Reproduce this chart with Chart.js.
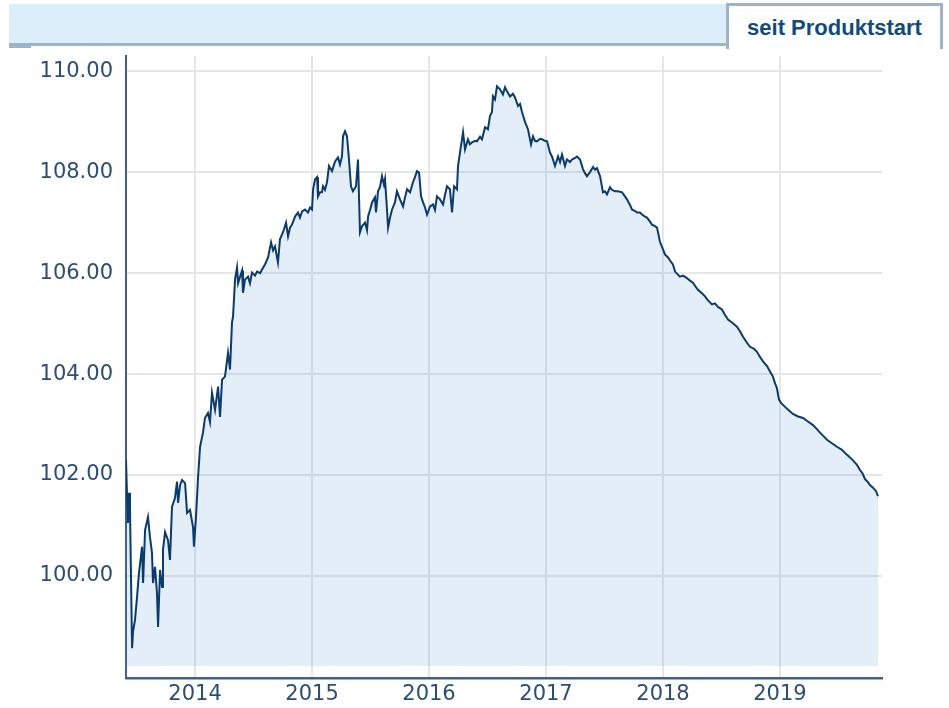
<!DOCTYPE html>
<html>
<head>
<meta charset="utf-8">
<script src="https://cdn.jsdelivr.net/npm/chart.js@4/dist/chart.umd.min.js"></script>
<style>
    html, body { margin: 0; padding: 0; background: #fff; }
    #page { position: relative; width: 949px; height: 708px; overflow: hidden; }
    #band { position: absolute; left: 9px; top: 4px; width: 717px; height: 39px; background: #ddeefb; border-bottom: 3px solid #9db3c8; }
    #bandEdge { position: absolute; left: 9px; top: 44px; width: 22px; height: 4px; background: #9db3c8; }
    #tab { position: absolute; left: 726px; top: 3px; width: 211px; height: 43px; background: #fff;
           border: 3px solid #9db3c8; border-bottom: none; text-align: center;
           font: bold 22px "Liberation Sans", Arial, sans-serif; color: #0f4b7c; line-height: 44px; }
    #box { position: absolute; left: 0; top: 0; width: 949px; height: 708px; }
</style>
</head>
<body>
<div id="page">
    <div id="box"><canvas id="chart"></canvas></div>
    <div id="band"></div>
    <div id="bandEdge"></div>
    <div id="tab">seit Produktstart</div>
</div>
<script>
// decimal years
const dates = [
    2013.410, 2013.419, 2013.427, 2013.436, 2013.444, 2013.462, 2013.470, 2013.487, 2013.504, 2013.521,
    2013.547, 2013.556, 2013.573, 2013.598, 2013.615, 2013.632, 2013.641, 2013.658, 2013.675, 2013.684,
    2013.701, 2013.718, 2013.726, 2013.744, 2013.769, 2013.786, 2013.803, 2013.829, 2013.846, 2013.855,
    2013.872, 2013.889, 2013.915, 2013.932, 2013.957, 2013.983, 2013.991, 2014.009, 2014.026, 2014.043,
    2014.068, 2014.085, 2014.111, 2014.128, 2014.145, 2014.171, 2014.197, 2014.214, 2014.231, 2014.256,
    2014.282, 2014.299, 2014.316, 2014.325, 2014.342, 2014.359, 2014.368, 2014.385, 2014.402, 2014.410,
    2014.427, 2014.453, 2014.470, 2014.487, 2014.513, 2014.530, 2014.556, 2014.573, 2014.598, 2014.624,
    2014.650, 2014.667, 2014.684, 2014.709, 2014.726, 2014.752, 2014.778, 2014.795, 2014.812, 2014.829,
    2014.855, 2014.880, 2014.897, 2014.915, 2014.940, 2014.966, 2014.983, 2015.000, 2015.009, 2015.026,
    2015.043, 2015.051, 2015.068, 2015.085, 2015.094, 2015.111, 2015.128, 2015.145, 2015.171, 2015.197,
    2015.222, 2015.239, 2015.256, 2015.265, 2015.282, 2015.299, 2015.316, 2015.333, 2015.350, 2015.376,
    2015.393, 2015.410, 2015.427, 2015.453, 2015.470, 2015.479, 2015.496, 2015.513, 2015.538, 2015.547,
    2015.564, 2015.581, 2015.598, 2015.615, 2015.624, 2015.641, 2015.650, 2015.667, 2015.684, 2015.709,
    2015.726, 2015.752, 2015.778, 2015.795, 2015.812, 2015.838, 2015.863, 2015.880, 2015.897, 2015.915,
    2015.932, 2015.949, 2015.966, 2015.983, 2016.009, 2016.034, 2016.051, 2016.068, 2016.094, 2016.120,
    2016.137, 2016.154, 2016.179, 2016.197, 2016.214, 2016.239, 2016.248, 2016.265, 2016.291, 2016.308,
    2016.333, 2016.350, 2016.368, 2016.393, 2016.410, 2016.436, 2016.453, 2016.479, 2016.504, 2016.521,
    2016.538, 2016.547, 2016.564, 2016.581, 2016.607, 2016.632, 2016.650, 2016.667, 2016.692, 2016.718,
    2016.735, 2016.761, 2016.778, 2016.795, 2016.821, 2016.846, 2016.872, 2016.889, 2016.906, 2016.923,
    2016.949, 2016.966, 2016.991, 2017.009, 2017.034, 2017.051, 2017.077, 2017.103, 2017.120, 2017.137,
    2017.162, 2017.179, 2017.205, 2017.222, 2017.248, 2017.265, 2017.291, 2017.316, 2017.333, 2017.350,
    2017.376, 2017.402, 2017.419, 2017.436, 2017.462, 2017.487, 2017.504, 2017.521, 2017.547, 2017.564,
    2017.590, 2017.615, 2017.650, 2017.675, 2017.692, 2017.718, 2017.735, 2017.761, 2017.778, 2017.803,
    2017.821, 2017.846, 2017.863, 2017.889, 2017.906, 2017.932, 2017.949, 2017.974, 2018.000, 2018.017,
    2018.043, 2018.060, 2018.085, 2018.103, 2018.128, 2018.145, 2018.171, 2018.205, 2018.231, 2018.256,
    2018.282, 2018.299, 2018.333, 2018.359, 2018.385, 2018.402, 2018.419, 2018.444, 2018.470, 2018.504,
    2018.530, 2018.556, 2018.590, 2018.632, 2018.658, 2018.684, 2018.718, 2018.744, 2018.778, 2018.803,
    2018.829, 2018.855, 2018.889, 2018.915, 2018.940, 2018.957, 2018.974, 2018.991, 2019.009, 2019.043,
    2019.077, 2019.111, 2019.154, 2019.197, 2019.239, 2019.282, 2019.316, 2019.342, 2019.376, 2019.402,
    2019.444, 2019.487, 2019.530, 2019.573, 2019.598, 2019.624, 2019.658, 2019.684, 2019.709, 2019.726,
    2019.752, 2019.769, 2019.795, 2019.821, 2019.838
];

const prices = [
    102.30, 101.60, 101.05, 101.65, 101.35, 98.57, 98.90, 99.13, 99.58, 100.06,
    100.58, 99.86, 100.91, 101.17, 100.77, 100.46, 99.86, 100.18, 99.66, 98.99,
    100.12, 99.78, 100.52, 100.87, 100.71, 100.32, 101.37, 101.55, 101.87, 101.45,
    101.80, 101.90, 101.84, 101.25, 101.31, 100.97, 100.58, 101.20, 101.96, 102.56,
    102.84, 103.13, 103.23, 103.05, 103.63, 103.29, 103.75, 103.15, 103.89, 103.95,
    104.42, 104.09, 105.02, 105.14, 105.87, 106.11, 105.80, 105.93, 106.05, 105.61,
    105.87, 105.93, 105.80, 106.01, 105.95, 106.03, 106.00, 106.07, 106.17, 106.31,
    106.61, 106.45, 106.53, 106.21, 106.67, 106.81, 107.00, 106.73, 106.90, 106.96,
    107.12, 107.20, 107.10, 107.22, 107.26, 107.20, 107.30, 107.26, 107.66, 107.86,
    107.90, 107.52, 107.60, 107.60, 107.72, 107.65, 107.80, 108.12, 108.02, 108.21,
    108.29, 108.15, 108.31, 108.71, 108.81, 108.71, 108.25, 107.72, 107.62, 107.72,
    108.25, 106.81, 106.93, 107.00, 106.85, 107.12, 107.25, 107.40, 107.50, 107.20,
    107.62, 107.70, 107.92, 107.75, 107.86, 107.26, 106.90, 107.10, 107.26, 107.40,
    107.62, 107.46, 107.32, 107.50, 107.66, 107.60, 107.80, 107.90, 108.02, 107.99,
    107.52, 107.40, 107.30, 107.16, 107.32, 107.36, 107.25, 107.52, 107.46, 107.36,
    107.55, 107.72, 107.66, 107.20, 107.72, 107.66, 108.12, 108.39, 108.79, 108.45,
    108.65, 108.55, 108.59, 108.62, 108.61, 108.70, 108.65, 108.89, 108.85, 109.11,
    109.19, 109.50, 109.44, 109.70, 109.64, 109.54, 109.68, 109.60, 109.50, 109.55,
    109.48, 109.31, 109.35, 109.19, 108.99, 108.85, 108.55, 108.71, 108.62, 108.61,
    108.66, 108.65, 108.62, 108.61, 108.39, 108.31, 108.12, 108.31, 108.20, 108.35,
    108.12, 108.25, 108.20, 108.25, 108.28, 108.31, 108.25, 108.06, 107.98, 107.92,
    108.00, 108.10, 108.05, 108.08, 107.92, 107.60, 107.62, 107.56, 107.70, 107.65,
    107.62, 107.62, 107.60, 107.52, 107.46, 107.35, 107.26, 107.23, 107.20, 107.20,
    107.16, 107.12, 107.10, 107.02, 106.96, 106.93, 106.90, 106.62, 106.47, 106.37,
    106.31, 106.25, 106.17, 106.03, 105.97, 105.93, 105.95, 105.90, 105.85, 105.81,
    105.72, 105.67, 105.60, 105.54, 105.46, 105.42, 105.38, 105.40, 105.33, 105.28,
    105.17, 105.08, 105.02, 104.94, 104.85, 104.74, 104.62, 104.54, 104.50, 104.44,
    104.34, 104.25, 104.16, 104.05, 103.95, 103.82, 103.72, 103.50, 103.43, 103.35,
    103.28, 103.21, 103.16, 103.13, 103.06, 102.99, 102.91, 102.84, 102.76, 102.70,
    102.63, 102.56, 102.50, 102.40, 102.35, 102.29, 102.20, 102.10, 102.02, 101.92,
    101.86, 101.80, 101.75, 101.68, 101.58
];

const yearTicks = [2014, 2015, 2016, 2017, 2018, 2019];
const priceTicks = [100, 102, 104, 106, 108, 110];

const points = dates.map((d, i) => ({ x: d, y: prices[i] }));

const tickFont = { family: 'DejaVu Sans', size: 21 };
const axisColor = '#3d6188';

new Chart(document.getElementById('chart'), {
    type: 'line',
    data: {
        datasets: [{
            data: points,
            borderColor: '#0b3a6c',
            borderWidth: 2,
            pointRadius: 0,
            tension: 0,
            fill: { target: { value: 98.22 } },
            backgroundColor: 'rgba(68,142,215,0.15)'
        }]
    },
    options: {
        responsive: true,
        maintainAspectRatio: false,
        animation: false,
        layout: { padding: { top: 56, right: 67, left: 0, bottom: 0 } },
        plugins: { legend: { display: false }, tooltip: { enabled: false } },
        scales: {
            x: {
                type: 'linear',
                min: 2013.41,
                max: 2019.872,
                afterFit: s => { s.height = 30; },
                afterBuildTicks: s => { s.ticks = yearTicks.map(v => ({ value: v })); },
                grid: { color: '#e6e6e6', lineWidth: 2, drawTicks: false },
                border: { color: axisColor, width: 2.5 },
                ticks: { color: '#2c4e74', font: tickFont, padding: 4, maxRotation: 0,
                         callback: v => String(v) }
            },
            y: {
                min: 97.98,
                max: 110.3,
                afterFit: s => { s.width = 126; },
                afterBuildTicks: s => { s.ticks = priceTicks.map(v => ({ value: v })); },
                grid: { color: '#e6e6e6', lineWidth: 2, drawTicks: false },
                border: { color: axisColor, width: 2 },
                ticks: { color: '#2c4e74', font: tickFont, padding: 13,
                         callback: v => v.toFixed(2) }
            }
        }
    }
});
</script>
</body>
</html>
